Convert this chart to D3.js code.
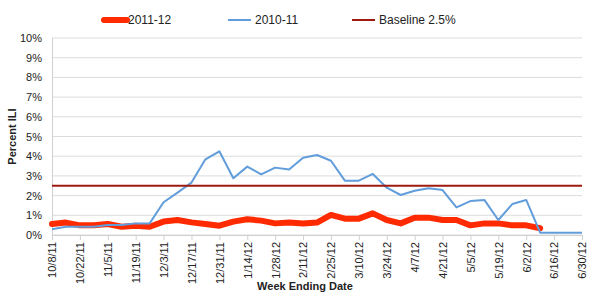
<!DOCTYPE html>
<html>
<head>
<meta charset="utf-8">
<script src="https://cdn.jsdelivr.net/npm/d3@7"></script>
<style>
  body { margin: 0; background: #fff; }
  svg { display: block; font-family: 'Liberation Sans', Arial, sans-serif; }
</style>
</head>
<body>
<svg id="chart"></svg>
<script>
const weeks = ['10/8/11', '10/15/11', '10/22/11', '10/29/11', '11/5/11', '11/12/11', '11/19/11', '11/26/11',
    '12/3/11', '12/10/11', '12/17/11', '12/24/11', '12/31/11', '1/7/12', '1/14/12', '1/21/12', '1/28/12',
    '2/4/12', '2/11/12', '2/18/12', '2/25/12', '3/3/12', '3/10/12', '3/17/12', '3/24/12', '3/31/12',
    '4/7/12', '4/14/12', '4/21/12', '4/28/12', '5/5/12', '5/12/12', '5/19/12', '5/26/12', '6/2/12',
    '6/9/12', '6/16/12', '6/23/12', '6/30/12']

// 2011-12 season stops at 6/9/12
const season1112 = [0.56, 0.63, 0.49, 0.49, 0.56, 0.42, 0.47, 0.42, 0.68, 0.76, 0.64, 0.56, 0.47,
    0.68, 0.80, 0.73, 0.59, 0.64, 0.58, 0.63, 1.02, 0.83, 0.83, 1.10, 0.76, 0.59, 0.88, 0.88,
    0.76, 0.76, 0.49, 0.59, 0.59, 0.49, 0.49, 0.34]

const season1011 = [0.29, 0.42, 0.42, 0.42, 0.51, 0.51, 0.59, 0.59, 1.66, 2.15, 2.66, 3.84, 4.25,
    2.88, 3.47, 3.08, 3.42, 3.33, 3.92, 4.06, 3.77, 2.76, 2.76, 3.10, 2.40, 2.03, 2.25, 2.37,
    2.28, 1.40, 1.72, 1.78, 0.76, 1.57, 1.78, 0.12, 0.12, 0.12, 0.12]

const baseline = 2.5
const yTicks = [0, 1, 2, 3, 4, 5, 6, 7, 8, 9, 10]

const width = 600
const height = 300
const margin = { top: 38, left: 52, bottom: 65, right: 18 }

const svg = d3.select('#chart').attr('width', width).attr('height', height)

const x = d3.scalePoint()
    .domain(weeks)
    .range([margin.left, width - margin.right])

const y = d3.scaleLinear()
    .domain([0, 10])
    .range([height - margin.bottom, margin.top])

// gridlines
svg.append('g')
    .selectAll('line')
    .data(yTicks)
    .join('line')
    .attr('x1', margin.left)
    .attr('x2', width - margin.right)
    .attr('y1', (d) => y(d))
    .attr('y2', (d) => y(d))
    .attr('stroke', '#dcdcdc')
    .attr('stroke-width', 1)

// y axis
const yAxis = svg.append('g')
    .attr('transform', `translate(${margin.left},0)`)
    .call(d3.axisLeft(y).tickValues(yTicks).tickSize(0).tickPadding(10).tickFormat((d) => d + '%'))
yAxis.select('.domain').attr('stroke', '#d0d0d0')
yAxis.selectAll('text').attr('font-size', 11).attr('fill', '#222').attr('font-family', 'Liberation Sans, Arial, sans-serif')

// x axis, label every other week
const xAxis = svg.append('g')
    .attr('transform', `translate(0,${y(0)})`)
    .call(d3.axisBottom(x)
        .tickValues(weeks.filter((d, i) => i % 2 === 0))
        .tickSize(5)
        .tickPadding(6))
xAxis.select('.domain').attr('stroke', '#d0d0d0')
xAxis.selectAll('.tick line').attr('stroke', '#d0d0d0')
xAxis.selectAll('text')
    .attr('font-size', 11)
    .attr('fill', '#222')
    .attr('font-family', 'Liberation Sans, Arial, sans-serif')
    .attr('transform', 'rotate(-90)')
    .attr('text-anchor', 'end')
    .attr('x', -7)
    .attr('y', 0)
    .attr('dy', '0.35em')

const line = d3.line()
    .x((d, i) => x(weeks[i]))
    .y((d) => y(d))

svg.append('path')
    .datum(season1112)
    .attr('fill', 'none')
    .attr('stroke', '#ff2a00')
    .attr('stroke-width', 6)
    .attr('stroke-linejoin', 'round')
    .attr('stroke-linecap', 'round')
    .attr('d', line)

svg.append('path')
    .datum(season1011)
    .attr('fill', 'none')
    .attr('stroke', '#619ddb')
    .attr('stroke-width', 2)
    .attr('stroke-linejoin', 'round')
    .attr('d', line)

svg.append('line')
    .attr('x1', margin.left)
    .attr('x2', width - margin.right)
    .attr('y1', y(baseline))
    .attr('y2', y(baseline))
    .attr('stroke', '#9e1a0e')
    .attr('stroke-width', 2)

// legend
const legend = [
    { name: '2011-12', color: '#ff2a00', w: 6, x: 104 },
    { name: '2010-11', color: '#619ddb', w: 2, x: 228 },
    { name: 'Baseline 2.5%', color: '#9e1a0e', w: 2, x: 352 },
]
const lg = svg.append('g').selectAll('g').data(legend).join('g')
    .attr('transform', (d) => `translate(${d.x},20)`)
lg.append('line')
    .attr('x1', 0).attr('x2', 23)
    .attr('stroke', (d) => d.color)
    .attr('stroke-width', (d) => d.w)
    .attr('stroke-linecap', (d) => d.w > 2 ? 'round' : 'butt')
lg.append('text')
    .attr('x', (d) => d.w > 2 ? 24 : 27)
    .attr('dy', '0.35em')
    .attr('font-size', 12)
    .attr('fill', '#222')
    .text((d) => d.name)

// axis titles
svg.append('text')
    .attr('transform', `translate(16,${(y(0) + y(10)) / 2}) rotate(-90)`)
    .attr('text-anchor', 'middle')
    .attr('font-size', 11)
    .attr('font-weight', 'bold')
    .attr('fill', '#222')
    .text('Percent ILI')

svg.append('text')
    .attr('x', 305)
    .attr('y', 290)
    .attr('text-anchor', 'middle')
    .attr('font-size', 11)
    .attr('font-weight', 'bold')
    .attr('fill', '#222')
    .text('Week Ending Date')
</script>
</body>
</html>
